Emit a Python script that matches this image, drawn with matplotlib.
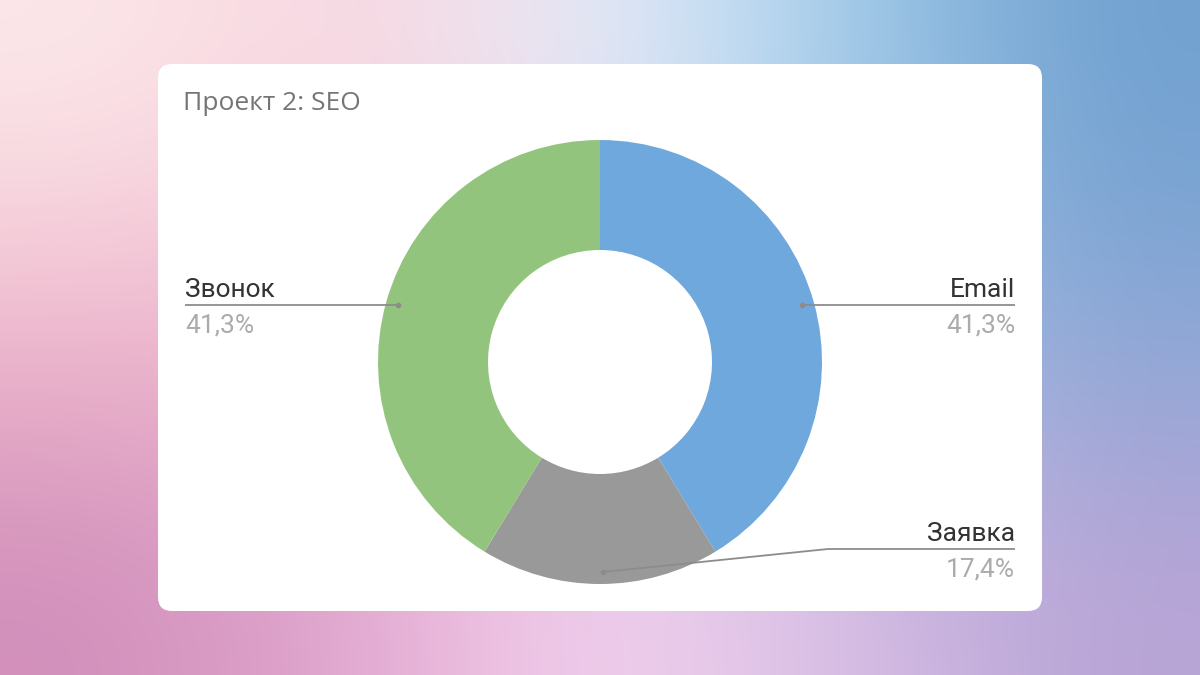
import matplotlib

matplotlib.use("Agg")
import matplotlib.pyplot as plt
import numpy as np
from matplotlib.patches import FancyBboxPatch

# data
title = "Проект 2: SEO"
labels = ["Email", "Заявка", "Звонок"]
shares = [41.3, 17.4, 41.3]
colors = ["#6fa8dc", "#999999", "#93c47d"]

W, H = 1200, 675


def py(y):
    # pixel row (from top) -> data y (from bottom)
    return H - y


fig = plt.figure(figsize=(12, 6.75), dpi=100)
ax = fig.add_axes([0, 0, 1, 1])

# soft gradient background (corner/edge colours)
grid = np.array([
    [[252, 232, 234], [248, 212, 222], [234, 240, 252], [162, 205, 234], [112, 160, 208]],
    [[240, 184, 204], [236, 180, 206], [225, 215, 240], [172, 195, 230], [140, 168, 214]],
    [[208, 142, 186], [226, 168, 208], [246, 212, 240], [218, 190, 228], [184, 164, 214]],
], dtype=float) / 255.0
ax.imshow(grid, extent=(0, W, 0, H), interpolation="bicubic", aspect="auto", zorder=0)

card = FancyBboxPatch((158, py(611)), 884, 547, boxstyle="round,pad=0,rounding_size=14",
                      facecolor="white", edgecolor="none", zorder=1)
ax.add_patch(card)

ax.text(183, py(104), title, fontsize=19, color="#757575", family="Open Sans",
        va="center", ha="left", zorder=3)

cx, cy, r_out, r_in = 600, py(362), 222, 112
wedges, _ = ax.pie(shares, colors=colors, startangle=90, counterclock=False,
                   center=(cx, cy), radius=r_out,
                   wedgeprops=dict(width=r_out - r_in, edgecolor="none"))
for w in wedges:
    w.set_zorder(2)

# leader lines: (label x, label line y, alignment, path points)
lead_color = "#8c8c8c"
label_specs = {
    "Email": dict(x=1015, y=305, ha="right", path=[(1015, 305), (802, 305)]),
    "Заявка": dict(x=1015, y=549, ha="right", path=[(1015, 549), (828, 549), (603, 572)]),
    "Звонок": dict(x=185, y=305, ha="left", path=[(185, 305), (398, 305)]),
}

for name, val in zip(labels, shares):
    s = label_specs[name]
    xs = [p[0] for p in s["path"]]
    ys = [py(p[1]) for p in s["path"]]
    ax.plot(xs, ys, color=lead_color, lw=1.3, zorder=4, solid_capstyle="butt")
    ax.plot(xs[-1], ys[-1], "o", ms=3, color=lead_color, zorder=4)
    ax.text(s["x"], py(s["y"] - 8), name, fontsize=19, color="#333333", family="Roboto",
            ha=s["ha"], va="baseline", zorder=5)
    pct = f"{val:.1f}%".replace(".", ",")
    ax.text(s["x"], py(s["y"] + 28), pct, fontsize=19, color="#ababab", family="Roboto",
            ha=s["ha"], va="baseline", zorder=5)

ax.set_xlim(0, W)
ax.set_ylim(0, H)
ax.set_aspect("auto")
ax.axis("off")

fig.savefig("out.png", dpi=100)
plt.close(fig)
